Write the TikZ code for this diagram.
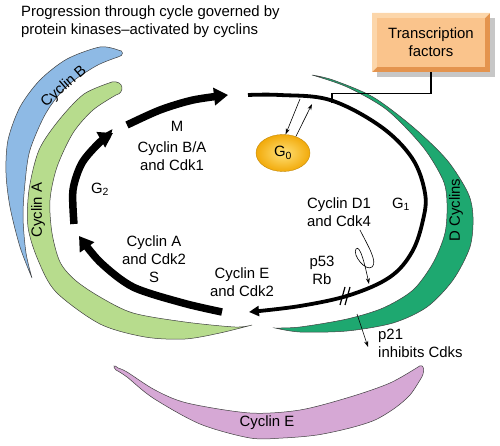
\documentclass[tikz,border=0pt]{standalone}
\usepackage{fontspec}
\setmainfont{Liberation Sans}
\usetikzlibrary{arrows.meta,shapes.geometric}
\definecolor{cycB}{RGB}{142,186,229}
\definecolor{cycA}{RGB}{183,220,141}
\definecolor{cycD}{RGB}{30,168,112}
\definecolor{cycE}{RGB}{214,168,213}
\definecolor{boxmid}{RGB}{250,196,140}
\definecolor{boxdark}{RGB}{228,148,78}
\definecolor{boxlight}{RGB}{252,214,170}
\definecolor{gzero}{RGB}{242,170,10}
\begin{document}
\begin{tikzpicture}[x=1pt,y=-1pt,
  lbl/.style={font=\fontsize{14.9}{18}\selectfont, inner sep=0pt, align=center},
  crescent/.style={draw=black!75, line width=0.5pt},
  bigarc/.style={line width=7.5pt, -{Triangle[length=14pt,width=17pt]}},
  g1arc/.style={line width=3.8pt, -{Triangle[length=10pt,width=10pt]}},
  thinarrow/.style={line width=0.6pt, -{Stealth[length=6pt,width=4pt]}},
  thinline/.style={line width=0.6pt}]
\useasboundingbox (0,0) rectangle (500,446);

% ---- crescents ----
\fill[cycB, crescent] plot[smooth] coordinates {(118,50) (100,47) (67,59) (40,80) (20,107) (8,140) (6,173) (10,207) (20,247) (32,278)}
  -- plot[smooth] coordinates {(32,278) (26,253) (23,217) (25,183) (30,150) (46,113) (67,86) (96,66) (118,57)}
  .. controls (124,56) and (124,50) .. (118,50) -- cycle;
\fill[cycA, crescent] plot[smooth] coordinates {(112,82) (84,94) (59,120) (39,150) (29,190) (28,227) (38,260) (56,292) (100,324) (145,337) (185,339) (220,333) (252,325)}
  -- plot[smooth] coordinates {(252,325) (235,327) (185,322) (133,313) (100,297) (75,280) (60,262) (52,233) (50,200) (57,167) (73,133) (93,110) (116,95)}
  .. controls (125,93) and (124,80) .. (112,82) -- cycle;
\fill[cycD, crescent] plot[smooth] coordinates {(312,75) (333,80) (373,97) (413,127) (447,160) (468,193) (473,217) (470,247) (453,280) (427,307) (393,323) (347,331) (300,332) (275,328)}
  -- plot[smooth] coordinates {(275,328) (300,327) (347,319) (383,308) (413,290) (433,263) (445,233) (447,203) (443,180) (423,147) (387,110) (347,87) (312,75)} -- cycle;
\fill[cycE, crescent] plot[smooth] coordinates {(118,368) (127,372) (155,390) (187,403) (250,413) (300,410) (350,397) (390,383) (418,367)}
  .. controls (424,362) and (426,372) .. (420,380)
  -- plot[smooth] coordinates {(420,380) (410,395) (395,408) (375,420) (350,428) (317,435) (283,438) (250,438) (200,424) (153,398) (127,377) (116,370)}
  .. controls (112,366) and (114,364) .. (118,368) -- cycle;

% ---- labels in crescents ----
\node[lbl, rotate=41] (lB) at (64,87) {Cyclin B};
\node[lbl, rotate=90] (lA) at (38,210) {Cyclin A};
\node[lbl, rotate=90] (lD) at (456,210) {D Cyclins};
\node[lbl] (lE) at (267,423) {Cyclin E};

% ---- title ----
\node[lbl, align=left, anchor=north west] (title) at (21,6) {Progression through cycle governed by\\protein kinases--activated by cyclins};

% ---- cell cycle arcs ----
\draw[g1arc] plot[smooth, tension=0.6] coordinates {(248,95) (280,95) (330,100) (380,126) (412,158) (425,193) (423,220) (412,252) (390,277) (350,295) (300,306) (249,312)};
\draw[bigarc] plot[smooth] coordinates {(222,312) (183,303) (133,287) (100,262) (79,236)};
\draw[bigarc] plot[smooth] coordinates {(74,224) (73,190) (82,163) (100,142) (113,133)};
\draw[bigarc] plot[smooth] coordinates {(127,125) (160,110) (193,100) (228,95)};

% ---- transcription factors ----
\fill[black!22] (377,18) rectangle (495,77);
\fill[boxdark] (372,13) rectangle (490,72);
\fill[boxlight] (372,13) -- (490,13) -- (485,18) -- (377,18) -- (377,67) -- (372,72) -- cycle;
\fill[boxmid] (377,18) rectangle (485,67);
\node[lbl, minimum width=118pt, minimum height=59pt] (tf) at (431,42.5) {Transcription\\factors};
\coordinate (tfend) at (332,103);
\draw[thinline, line width=1.2pt] (tf.south) -- ++(0,21) -| (tfend);

% ---- G0 ----
\node[ellipse, minimum width=54pt, minimum height=37pt, inner sep=0pt, draw=gzero!80!black, line width=0.4pt,
      inner color={rgb,255:red,255;green,225;blue,120}, outer color=gzero, lbl] (g0) at (283,153) {G\textsubscript{0}};
\coordinate (c1) at (300,99);
\coordinate (c2) at (312,104);
\draw[thinarrow] (c1) -- (g0.82);
\draw[thinarrow] (g0.52) -- (c2);

% ---- phase labels ----
\node[lbl] (M) at (177,126.5) {M};
\node[lbl] (BA) at (172,156) {Cyclin B/A\\and Cdk1};
\node[lbl] (G2) at (100,189) {G\textsubscript{2}};
\node[lbl] (A2) at (154,259) {Cyclin A\\and Cdk2\\S};
\node[lbl] (E2) at (242,282) {Cyclin E\\and Cdk2};
\node[lbl] (pRb) at (322,270) {p53\\Rb};
\node[lbl] (D1) at (339,212.5) {Cyclin D1\\and Cdk4};
\node[lbl] (G1) at (401,204.5) {G\textsubscript{1}};
\node[lbl, align=left, anchor=west] (p21) at (378,343) {p21\\inhibits Cdks};

% ---- squiggle arrow ----
\coordinate (sq0) at (360,230);
\coordinate (sqend) at (369,284);
\draw[thinarrow] (sq0) .. controls (368,246) and (378,262) .. (372,267) .. controls (366,272) and (352,255) .. (356,249) .. controls (360,244) and (365,265) .. (sqend);

% ---- hatch marks ----
\coordinate (h1a) at (340,305); \coordinate (h1b) at (345,287);
\coordinate (h2a) at (345,305); \coordinate (h2b) at (350,287);
\draw[line width=1.2pt] (h1a) -- (h1b);
\draw[line width=1.2pt] (h2a) -- (h2b);

% ---- p21 arrow ----
\coordinate (p21s) at (357,314);
\coordinate (p21e) at (368,347);
\draw[thinarrow] (p21s) -- (p21e);
\end{tikzpicture}
\end{document}
